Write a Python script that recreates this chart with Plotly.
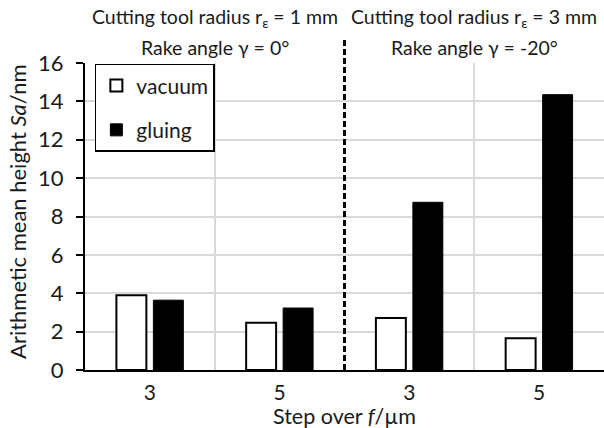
import plotly.graph_objects as go

# Data
step_over = ["3", "5", "3", "5"]
positions = [0, 1, 2, 3]
vacuum = [3.9, 2.46, 2.71, 1.65]
gluing = [3.64, 3.23, 8.74, 14.35]
group_top = ["Cutting tool radius r<sub>ε</sub> = 1 mm", "Cutting tool radius r<sub>ε</sub> = 3 mm"]
group_bottom = ["Rake angle γ = 0°", "Rake angle γ = -20°"]
group_centers = [0.5, 2.5]
y_range = [0, 16]

FONT = "Lato"
TXT = "#1a1a1a"

fig = go.Figure()
fig.add_trace(go.Bar(x=positions, y=vacuum, name="vacuum", legendgroup="a",
                     marker=dict(color="white", line=dict(color="black", width=2))))
fig.add_trace(go.Bar(x=positions, y=gluing, name="gluing", legendgroup="b",
                     marker=dict(color="black", line=dict(color="black", width=1))))
# invisible helper trace so the label-only overlay axis is rendered
fig.add_trace(go.Scatter(x=positions, y=vacuum, yaxis="y2", mode="markers",
                         marker=dict(opacity=0), showlegend=False, hoverinfo="skip"))

# dashed separator between the two tool configurations
fig.add_shape(type="line", xref="x", yref="paper", x0=1.5, x1=1.5, y0=0, y1=1.085,
              line=dict(color="black", width=3, dash="6px,3px"), layer="above")

for xc, t1, t2 in zip(group_centers, group_top, group_bottom):
    fig.add_annotation(x=xc, xref="x", yref="paper", y=1.147, yanchor="middle",
                       text=t1, showarrow=False, font=dict(family=FONT, size=19.5, color=TXT))
    fig.add_annotation(x=xc, xref="x", yref="paper", y=1.052, yanchor="middle",
                       text=t2, showarrow=False, font=dict(family=FONT, size=19.5, color=TXT))

# axis titles
fig.add_annotation(x=0.5, xref="paper", y=-0.151, yref="paper", yanchor="middle",
                   text="Step over <i>f</i>/µm", showarrow=False,
                   font=dict(family=FONT, size=21.5, color=TXT))
fig.add_annotation(x=-0.129, xref="paper", y=0.515, yref="paper", xanchor="center",
                   yanchor="middle", textangle=-90,
                   text="Arithmetic mean height <i>Sa</i>/nm", showarrow=False,
                   font=dict(family=FONT, size=22, color=TXT))

fig.update_layout(
    width=604, height=428,
    margin=dict(l=85, r=0, t=63, b=58),
    plot_bgcolor="white", paper_bgcolor="white",
    barmode="group", bargap=0.43, bargroupgap=0.19,
    font=dict(family=FONT, size=22, color=TXT),
    legend=dict(x=0.019, y=0.997, xanchor="left", yanchor="top",
                bordercolor="black", borderwidth=1.5, bgcolor="white",
                font=dict(family=FONT, size=21, color=TXT),
                tracegroupgap=14, traceorder="grouped"),
    showlegend=True,
    yaxis=dict(range=y_range, dtick=2, showgrid=True, gridcolor="#d9d9d9", gridwidth=2,
               showline=True, linecolor="black", linewidth=2, ticks="outside", ticklen=7,
               tickwidth=2, tickcolor="black", zeroline=False, automargin=False,
               showticklabels=False),
    yaxis2=dict(overlaying="y", side="left", range=y_range, dtick=2,
                showgrid=False, showline=False, zeroline=False,
                ticks="outside", ticklen=16, tickcolor="rgba(0,0,0,0)",
                tickfont=dict(size=22, family=FONT, color=TXT), automargin=False),
)
fig.update_xaxes(
    range=[-0.5, 3.5], tickmode="array", tickvals=positions, ticktext=step_over,
    showgrid=False, ticks="outside", ticklen=3, tickcolor="rgba(0,0,0,0)",
    showline=True, linecolor="black", linewidth=2,
    minor=dict(tickmode="array", tickvals=[0.5, 2.5, 3.5], showgrid=True,
               gridcolor="#d9d9d9", gridwidth=2, ticks=""),
    tickfont=dict(size=21), zeroline=False, automargin=False,
)

fig.write_html("out.html", config={"displayModeBar": False},
               post_script="document.body.style.margin='0';document.body.style.overflow='hidden';")
